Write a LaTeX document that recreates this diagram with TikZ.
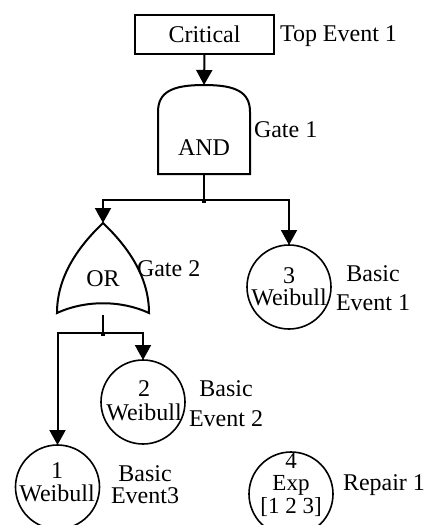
\documentclass[tikz,border=0pt]{standalone}
\usepackage{fontspec}
\setmainfont{Liberation Serif}
\usetikzlibrary{arrows.meta}
\begin{document}
\begin{tikzpicture}[x=1pt,y=-1pt,
  wire/.style={line width=2pt},
  flow/.style={wire,-{Triangle[width=16pt,length=15pt]}},
  txt/.style={inner sep=0pt,outer sep=0pt,font=\fontsize{24}{24}\selectfont},
  intxt/.style={inner sep=0pt,outer sep=0pt,align=center,anchor=south,
    text depth=0pt,font=\fontsize{24}{#1}\selectfont},
  box/.style={draw,line width=2pt,minimum width=139pt,minimum height=39pt,
    inner sep=0pt,outer sep=0pt,font=\fontsize{24}{24}\selectfont},
  event/.style={circle,draw,line width=1.6pt,minimum size=84pt,inner sep=0pt,outer sep=0pt},
  joint/.style={fill=black}
]
\useasboundingbox (0,0) rectangle (428,525);

% top event
\node[box] (crit) at (204.5,34.5) {Critical};
\node[txt,anchor=base west] (toplbl) at (280,41) {Top Event 1};

% AND gate
\coordinate (andtop) at (204,85);
\coordinate (andbot) at (204,174);
\draw[wire] (158,174) -- (158,112)
  .. controls (158,92) and (172,85) .. (204,85)
  .. controls (236,85) and (250,92) .. (250,112)
  -- (250,174) -- cycle;
\node[txt,anchor=base] (andtxt) at (204,155) {AND};
\node[txt,anchor=base west] (g1lbl) at (254,137) {Gate 1};

% OR gate
\coordinate (ortop) at (103,223);
\coordinate (orbot) at (103,315);
\draw[wire] (103,223) .. controls (80,245) and (57,275) .. (57,313)
  .. controls (85,300) and (121,300) .. (149,313)
  .. controls (149,275) and (126,245) .. (103,223) -- cycle;
\node[txt,anchor=base] (ortxt) at (103,286) {OR};
\node[txt,anchor=base west] (g2lbl) at (137,276) {Gate 2};

% basic events
\node[event] (e3) at (289,287) {};
\node[intxt=22] (e3t) at (289,305) {3\\Weibull};
\node[txt,anchor=base] (e3c) at (373,281) {Basic};
\node[txt,anchor=base] (e3d) at (373,310) {Event 1};

\node[event] (e2) at (143,402) {};
\node[intxt=24] (e2t) at (144,420) {2\\Weibull};
\node[txt,anchor=base] (e2c) at (226,396) {Basic};
\node[txt,anchor=base] (e2d) at (226,426) {Event 2};

\node[event] (e1) at (57.5,487) {};
\node[intxt=23] (e1t) at (57,501) {1\\Weibull};
\node[txt,anchor=base] (e1c) at (145,481) {Basic};
\node[txt,anchor=base] (e1d) at (145,503) {Event3};

% repair
\node[event] (e4) at (291,494) {};
\node[intxt=22.5,font=\fontsize{23}{22.5}\selectfont] (e4t) at (291,513) {4\\Exp\\{[1 2 3]}};
\node[txt,anchor=base west] (e4d) at (343,490) {Repair 1};

% connectors
\coordinate (j1) at (204,200);
\coordinate (j2) at (103,333);
\draw[flow] (crit.south) -- (andtop);
\draw[wire] (andbot) -- (j1);
\draw[flow] (j1) -| (ortop);
\draw[flow] (j1) -| (e3.north);
\draw[wire] (orbot) -- (j2);
\draw[flow] (j2) -| (e2.north);
\draw[flow] (j2) -| (e1.north);
\fill[joint] (j1) ++(-2,-1) rectangle ++(4,4);
\fill[joint] (j2) ++(-2,-1) rectangle ++(4,4);
\end{tikzpicture}
\end{document}
